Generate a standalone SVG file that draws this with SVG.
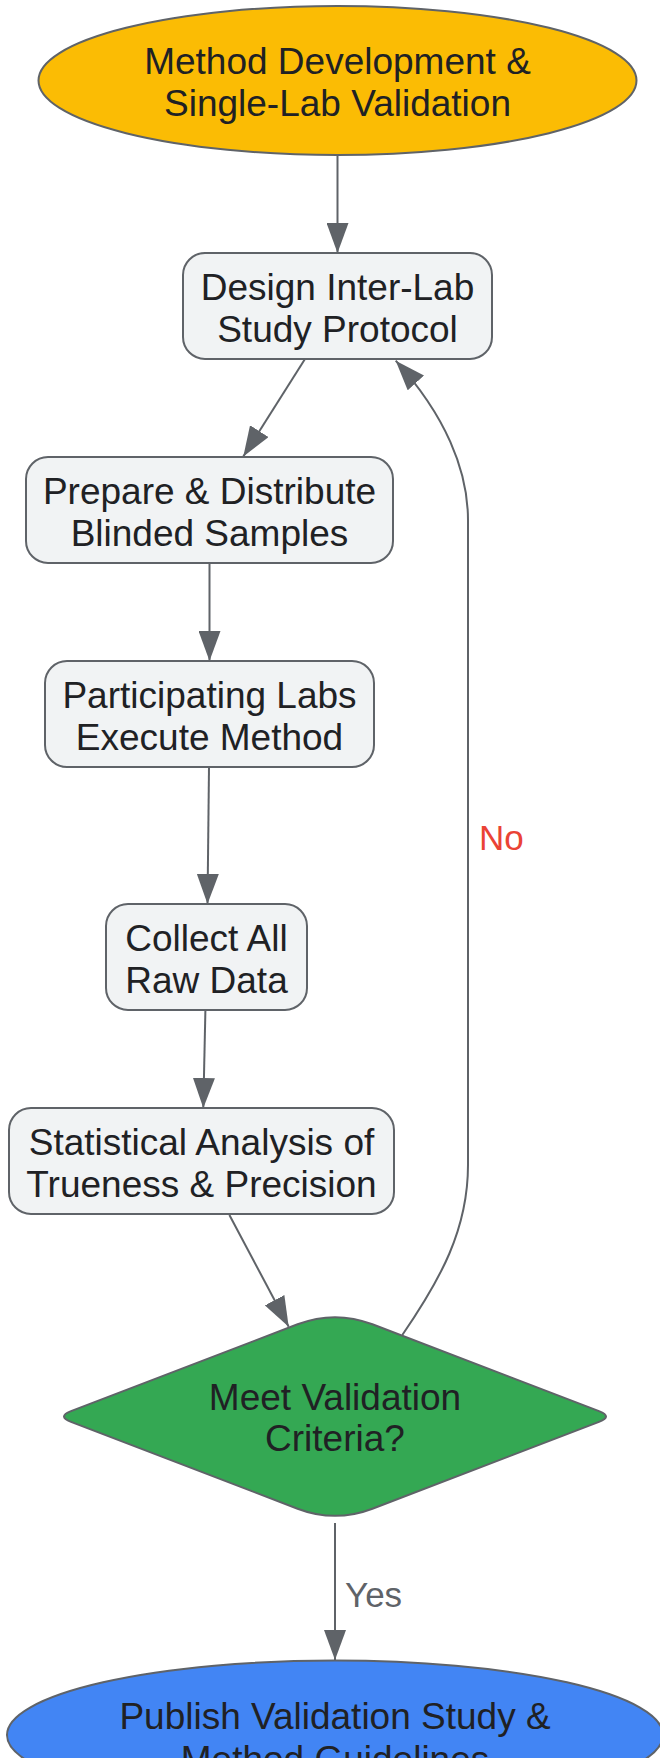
<svg xmlns="http://www.w3.org/2000/svg" width="660" height="1758" viewBox="0 0 660 1758">
<style>
.node{stroke:#5f6368;stroke-width:2}
.box{fill:#f1f3f4}
.t{font-family:"Liberation Sans",Arial,sans-serif;font-size:37px;fill:#202124;text-anchor:middle}
.edge{fill:none;stroke:#5f6368;stroke-width:2}
.lbl{font-family:"Liberation Sans",Arial,sans-serif;font-size:35px}
</style>
<defs>
<marker id="arr" viewBox="0 0 30 22" refX="30" refY="11" markerWidth="30" markerHeight="22" markerUnits="userSpaceOnUse" orient="auto">
<path d="M0,0 L30,11 L0,22 Z" fill="#5f6368"/>
</marker>
</defs>
<rect width="660" height="1758" fill="#ffffff"/>
<g id="connectors">
<path class="edge" d="M337.5,155 L337.5,253" marker-end="url(#arr)"/>
<path class="edge" d="M305,359 L243.3,456.5" marker-end="url(#arr)"/>
<path class="edge" d="M209.5,563 L209.5,661" marker-end="url(#arr)"/>
<path class="edge" d="M209,767 L207.5,904" marker-end="url(#arr)"/>
<path class="edge" d="M205.4,1010 L203.3,1108" marker-end="url(#arr)"/>
<path class="edge" d="M229.4,1215 L288.7,1326.7" marker-end="url(#arr)"/>
<path class="edge" d="M335,1523 L335,1660" marker-end="url(#arr)"/>
<path class="edge" d="M402.3,1335 C440,1280 468,1230 468,1165 L468,520 C468,470 445,415 395.7,360.7" marker-end="url(#arr)"/>
<text class="lbl" x="479" y="850" fill="#ea4335">No</text>
<text class="lbl" x="345" y="1606.5" fill="#5f6368">Yes</text>
</g>
<g id="start">
<ellipse class="node" cx="337.5" cy="80.5" rx="299" ry="74.5" fill="#fbbc04"/>
<text class="t" x="337.5" y="74">Method Development &amp;</text>
<text class="t" x="337.5" y="116">Single-Lab Validation</text>
</g>
<g id="design">
<rect class="node box" x="183" y="253" width="309" height="106" rx="22"/>
<text class="t" x="337.5" y="299.5">Design Inter-Lab</text>
<text class="t" x="337.5" y="341.8">Study Protocol</text>
</g>
<g id="prepare">
<rect class="node box" x="26" y="457" width="367" height="106" rx="22"/>
<text class="t" x="209.5" y="503.5">Prepare &amp; Distribute</text>
<text class="t" x="209.5" y="545.8">Blinded Samples</text>
</g>
<g id="execute">
<rect class="node box" x="45" y="661" width="329" height="106" rx="22"/>
<text class="t" x="209.5" y="707.5">Participating Labs</text>
<text class="t" x="209.5" y="749.8">Execute Method</text>
</g>
<g id="collect">
<rect class="node box" x="106" y="904" width="201" height="106" rx="22"/>
<text class="t" x="206.5" y="950.5">Collect All</text>
<text class="t" x="206.5" y="992.8">Raw Data</text>
</g>
<g id="analysis">
<rect class="node box" x="9" y="1108" width="385" height="106" rx="22"/>
<text class="t" x="201.5" y="1154.5">Statistical Analysis of</text>
<text class="t" x="201.5" y="1196.8">Trueness &amp; Precision</text>
</g>
<g id="decision">
<path class="node" fill="#34a853" d="M297.6,1324.3 Q335,1310 372.4,1324.3 L599,1411.1 Q613,1416.5 599,1421.9 L372.4,1508.7 Q335,1523 297.6,1508.7 L71,1421.9 Q57,1416.5 71,1411.1 Z"/>
<text class="t" x="335" y="1410">Meet Validation</text>
<text class="t" x="335" y="1450.7">Criteria?</text>
</g>
<g id="publish">
<ellipse class="node" cx="335" cy="1735" rx="328" ry="74.5" fill="#4285f4"/>
<text class="t" x="335" y="1729.3">Publish Validation Study &amp;</text>
<text class="t" x="335" y="1771.7">Method Guidelines</text>
</g>
</svg>
